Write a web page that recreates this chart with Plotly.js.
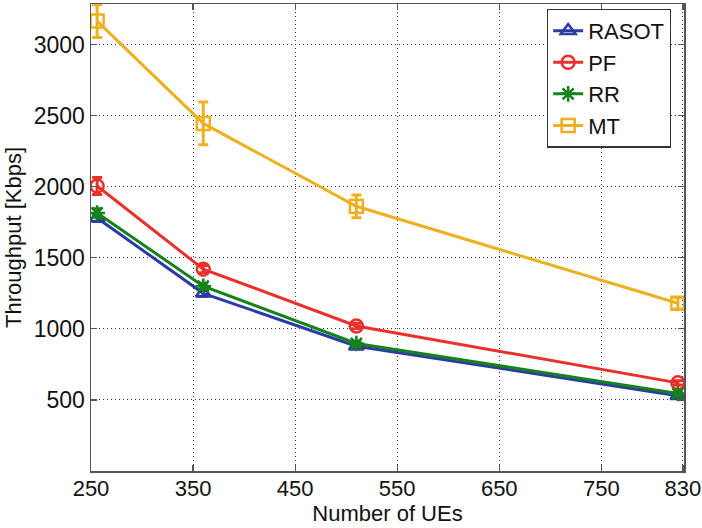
<!DOCTYPE html>
<html>
<head>
<meta charset="utf-8">
<script src="https://cdn.plot.ly/plotly-3.0.1.min.js"></script>
<style>html,body{margin:0;padding:0;background:#fff;}#chart{width:702px;height:528px;}</style>
</head>
<body>
<div id="chart"></div>
<script>
// Data
const numUEs = [256, 360, 510, 825];
const seriesNames = ['RASOT', 'PF', 'RR', 'MT'];
const rasot = [1780, 1250, 878, 530];
const rasotErr = [25, 20, 15, 10];
const pf = [2005, 1420, 1020, 620];
const pfErr = [60, 25, 20, 15];
const rr = [1815, 1300, 897, 545];
const rrErr = [30, 20, 15, 10];
const mt = [3165, 2445, 1862, 1180];
const mtErr = [115, 150, 80, 40];
const xTicks = [250, 350, 450, 550, 650, 750, 830];
const yTicks = [500, 1000, 1500, 2000, 2500, 3000];

const colors = ['#2B3BA3', '#E8312B', '#15821C', '#EDB120'];
const symbols = ['triangle-up-open', 'circle-open', 'asterisk-open', 'square-open'];
const ys = [rasot, pf, rr, mt];
const errs = [rasotErr, pfErr, rrErr, mtErr];

const traces = seriesNames.map((name, i) => ({
  type: 'scatter',
  mode: 'lines+markers',
  name: name,
  x: numUEs,
  y: ys[i],
  line: {color: colors[i], width: 3},
  marker: {symbol: symbols[i], size: 13, color: colors[i], line: {color: colors[i], width: 2.5}},
  error_y: {type: 'data', array: errs[i], visible: true, color: colors[i], thickness: 3, width: 5}
}));

const fam = 'Liberation Sans, Arial, sans-serif';
const tickFont = {family: fam, color: '#111', size: 22};
const titleFont = {family: fam, color: '#111', size: 22};
const layout = {
  width: 702, height: 528,
  margin: {l: 91, r: 18, t: 4, b: 57, autoexpand: false},
  paper_bgcolor: '#fff', plot_bgcolor: '#fff',
  font: tickFont,
  showlegend: true,
  legend: {
    x: 0.978, y: 0.99, xanchor: 'right', yanchor: 'top',
    bgcolor: '#fff', bordercolor: '#333', borderwidth: 1.2,
    font: {family: fam, size: 22, color: '#111'},
    tracegroupgap: 0
  },
  xaxis: {
    range: [250, 831], tickvals: xTicks, ticktext: xTicks.map(String),
    showgrid: true, gridcolor: '#333', griddash: '1px,3px', gridwidth: 1,
    showline: true, linecolor: '#555', linewidth: 1.5, mirror: 'ticks',
    ticks: 'inside', ticklen: 6, tickcolor: '#555', tickwidth: 1.2,
    zeroline: false, automargin: false, ticklabeloverflow: 'allow',
    ticklabelstandoff: -3,
    title: {text: 'Number of UEs', font: titleFont, standoff: 2},
    tickfont: tickFont
  },
  yaxis: {
    range: [0, 3285], tickvals: yTicks, ticktext: yTicks.map(String),
    showgrid: true, gridcolor: '#333', griddash: '1px,3px', gridwidth: 1,
    showline: true, linecolor: '#555', linewidth: 1.5, mirror: 'ticks',
    ticks: 'inside', ticklen: 6, tickcolor: '#555', tickwidth: 1.2,
    zeroline: false, automargin: false,
    title: {text: 'Throughput [Kbps]', font: titleFont, standoff: 6},
    tickfont: {family: fam, color: '#111', size: 23}
  }
};
Plotly.newPlot('chart', traces, layout, {displayModeBar: false, staticPlot: true});
</script>
</body>
</html>
